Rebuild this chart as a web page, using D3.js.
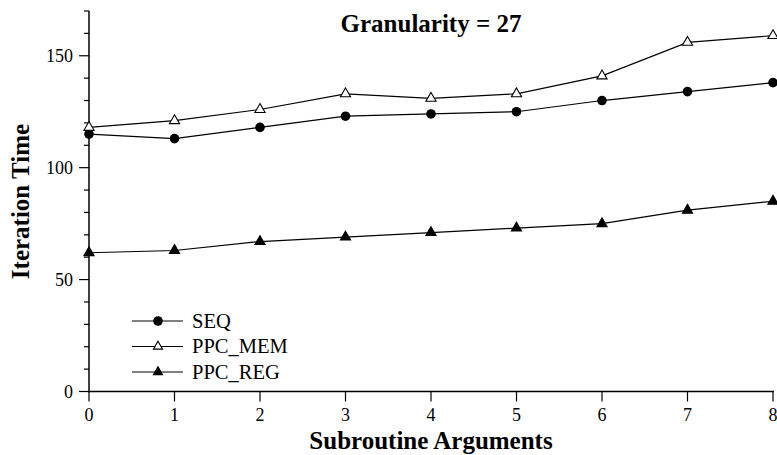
<!DOCTYPE html>
<html>
<head>
<meta charset="utf-8">
<script src="https://cdn.jsdelivr.net/npm/d3@7"></script>
</head>
<body style="margin:0;background:#fff">
<svg id="chart" width="777" height="455" font-family="'Liberation Serif', 'DejaVu Serif', serif"></svg>
<script>
// chart data
const xArgs = [0, 1, 2, 3, 4, 5, 6, 7, 8];
const seqValues = [115, 113, 118, 123, 124, 125, 130, 134, 138];
const ppcMemValues = [118, 121, 126, 133, 131, 133, 141, 156, 159];
const ppcRegValues = [62, 63, 67, 69, 71, 73, 75, 81, 85];
const seriesNames = ['SEQ', 'PPC_MEM', 'PPC_REG'];
const yTickLabels = [0, 50, 100, 150];
const titleText = 'Granularity = 27';

const serif = "'Liberation Serif', 'DejaVu Serif', serif";
const svg = d3.select('#chart');
const plotLeft = 89, plotRight = 773, plotTop = 11, plotBottom = 391.5;

const x = d3.scaleLinear().domain([0, 8]).range([plotLeft, plotRight]);
const y = d3.scaleLinear().domain([0, 170]).range([plotBottom, plotTop]);

function label(sel, size, bold) {
    return sel.attr('font-family', serif)
        .style('font-family', serif)
        .attr('font-size', size)
        .attr('font-weight', bold ? 'bold' : 'normal')
        .attr('fill', '#000');
}

// y axis: minor ticks every 10, labels every 50
const gy = svg.append('g').attr('transform', 'translate(' + plotLeft + ',0)');
gy.append('line').attr('y1', plotTop).attr('y2', plotBottom + 1).attr('stroke', '#000').attr('stroke-width', 1.5);
gy.selectAll('.minor')
    .data(d3.range(0, 171, 10))
    .enter()
    .append('line')
    .attr('x1', d => d % 50 === 0 ? -10 : -5)
    .attr('x2', 0)
    .attr('y1', d => y(d))
    .attr('y2', d => y(d))
    .attr('stroke', '#000')
    .attr('stroke-width', 1.2);
gy.selectAll('text')
    .data(yTickLabels)
    .enter()
    .append('text')
    .attr('x', -16)
    .attr('y', d => y(d))
    .attr('dy', '0.34em')
    .attr('text-anchor', 'end')
    .call(label, 18)
    .text(d => d);

// x axis
const gx = svg.append('g').attr('transform', 'translate(0,' + plotBottom + ')');
gx.append('line').attr('x1', plotLeft).attr('x2', plotRight + 1).attr('stroke', '#000').attr('stroke-width', 1.5);
gx.selectAll('line.tick')
    .data(xArgs)
    .enter()
    .append('line')
    .attr('class', 'tick')
    .attr('x1', d => x(d))
    .attr('x2', d => x(d))
    .attr('y1', 0)
    .attr('y2', 10)
    .attr('stroke', '#000')
    .attr('stroke-width', 1.2);
gx.selectAll('text')
    .data(xArgs)
    .enter()
    .append('text')
    .attr('x', d => x(d))
    .attr('y', 29.5)
    .attr('text-anchor', 'middle')
    .call(label, 18)
    .text(d => d);

// titles
svg.append('text')
    .attr('x', 431).attr('y', 32)
    .attr('text-anchor', 'middle')
    .call(label, 25, true)
    .text(titleText);
svg.append('text')
    .attr('x', 431).attr('y', 449)
    .attr('text-anchor', 'middle')
    .call(label, 25, true)
    .text('Subroutine Arguments');
svg.append('text')
    .attr('transform', 'translate(29,201.5) rotate(-90)')
    .attr('text-anchor', 'middle')
    .call(label, 25, true)
    .text('Iteration Time');

// markers
function drawMarker(g, kind, size) {
    if (kind === 'circle') {
        g.append('circle').attr('r', size * 0.48).attr('fill', '#000');
    } else {
        g.append('path')
            .attr('d', d3.symbol().type(d3.symbolTriangle).size(size * size * 0.45))
            .attr('fill', kind === 'open' ? '#fff' : '#000')
            .attr('stroke', '#000')
            .attr('stroke-width', 1.1);
    }
}

const series = [
    { name: seriesNames[0], values: seqValues, kind: 'circle' },
    { name: seriesNames[1], values: ppcMemValues, kind: 'open' },
    { name: seriesNames[2], values: ppcRegValues, kind: 'filled' }
];

const line = d3.line().x((d, i) => x(xArgs[i])).y(d => y(d));

series.forEach(s => {
    svg.append('path')
        .datum(s.values)
        .attr('d', line)
        .attr('fill', 'none')
        .attr('stroke', '#000')
        .attr('stroke-width', 1.2);
    svg.append('g')
        .selectAll('g')
        .data(s.values)
        .enter()
        .append('g')
        .attr('transform', (d, i) => 'translate(' + [x(xArgs[i]), y(d)] + ')')
        .each(function() { drawMarker(d3.select(this), s.kind, 10); });
});

// legend
const legend = svg.append('g').attr('transform', 'translate(132,321)');
series.forEach((s, i) => {
    const row = legend.append('g').attr('transform', 'translate(0,' + (i * 25.5) + ')');
    row.append('line').attr('x1', 0).attr('x2', 51).attr('stroke', '#000').attr('stroke-width', 1.2);
    const m = row.append('g').attr('transform', 'translate(26,0)');
    drawMarker(m, s.kind, s.kind === 'circle' ? 10 : 9);
    row.append('text')
        .attr('x', 60).attr('y', 0).attr('dy', '0.34em')
        .call(label, 20.5)
        .text(s.name);
});
</script>
</body>
</html>
